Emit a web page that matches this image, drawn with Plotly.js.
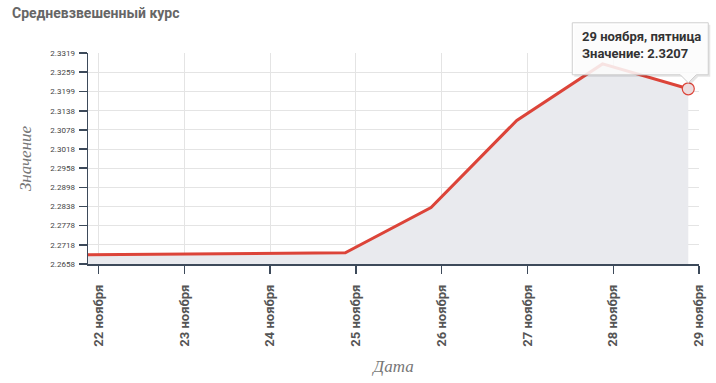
<!DOCTYPE html>
<html>
<head>
<meta charset="utf-8">
<script src="https://cdn.plot.ly/plotly-3.0.1.min.js"></script>
<style>
  html, body { margin: 0; padding: 0; background: #fff; }
  #chart { width: 716px; height: 383px; }
</style>
</head>
<body>
<div id="chart"></div>
<script>
// ---- data ----
const dates = ["2019-11-22", "2019-11-23", "2019-11-24", "2019-11-25",
               "2019-11-26", "2019-11-27", "2019-11-28", "2019-11-29"];
const values = [2.2687, 2.2689, 2.2691, 2.2693, 2.2835, 2.3108, 2.3285, 2.3207];
const xTickLabels = ["22 ноября", "23 ноября", "24 ноября", "25 ноября",
                     "26 ноября", "27 ноября", "28 ноября", "29 ноября"];
const yTickLabels = ["2.2658", "2.2718", "2.2778", "2.2838", "2.2898", "2.2958",
                     "2.3018", "2.3078", "2.3138", "2.3199", "2.3259", "2.3319"];
const weekdays = ["воскресенье", "понедельник", "вторник", "среда", "четверг", "пятница", "суббота"];
const tzOffsetHours = 3; // data stamped in UTC, ticks at local (UTC+3) midnight

function toMs(d) { return new Date(d.replace(" ", "T") + (d.length > 10 ? ":00Z" : "T00:00:00Z")).getTime(); }
function shift(d, h) {
  const t = toMs(d) - h * 3600000;
  return new Date(t).toISOString().slice(0, 16).replace("T", " ");
}
const xs = dates.map(d => shift(d, tzOffsetHours));
const last = values.length - 1;
const lastDate = new Date(dates[last] + "T00:00:00Z");
const tipText = "<b>" + xTickLabels[last] + ", " + weekdays[lastDate.getUTCDay()] +
                "</b><br><b>Значение: " + values[last].toFixed(4) + "</b>";

const yNums = yTickLabels.map(Number);
const xRange = [xs[0], dates[last]];
const yRange = [2.26578, 2.33192];

// anchor of the hover box in paper fractions, derived from the last data point
const pxAnchor = (toMs(xs[last]) - toMs(xRange[0])) / (toMs(xRange[1]) - toMs(xRange[0]));
const pyAnchor = (values[last] - yRange[0]) / (yRange[1] - yRange[0]);

const traces = [
  {
    x: xs, y: values, type: "scatter", mode: "lines",
    fill: "tozeroy", fillcolor: "#e9eaee",
    line: { color: "#dc4439", width: 3 },
    hoverinfo: "skip"
  },
  {
    x: [xs[last]], y: [values[last]], type: "scatter", mode: "markers",
    marker: { size: 12, color: "#ecdcde", line: { color: "#dc4439", width: 1.2 } },
    hoverinfo: "skip"
  }
];

const axisCol = "#3d4a5a";
const boxPath = "M -116,66 L 20,66 L 20,14 L 8,14 L 0,6 L -8,14 L -116,14 Z";
const shadowPath = "M -114,64 L 22,64 L 22,12 L 10,12 L 2,4 L -6,12 L -114,12 Z";

const layout = {
  width: 716, height: 383,
  margin: { l: 88, r: 17, t: 53, b: 119 },
  paper_bgcolor: "#fff", plot_bgcolor: "#fff",
  showlegend: false,
  font: { family: "Roboto, sans-serif", color: "#555" },
  title: {
    text: "<b>Средневзвешенный курс</b>",
    font: { family: "Roboto, sans-serif", size: 14, color: "#666" },
    xref: "container", yref: "container",
    x: 12 / 716, xanchor: "left",
    y: 1 - 13 / 383, yanchor: "middle"
  },
  xaxis: {
    type: "date",
    range: xRange,
    tickmode: "array",
    tickvals: dates,
    ticktext: xTickLabels,
    tickangle: -90,
    tickfont: { family: "Roboto, sans-serif", size: 13, color: "#555", weight: "bold" },
    ticks: "outside", ticklen: 8, tickwidth: 1.5, tickcolor: axisCol,
    ticklabelstandoff: 6,
    showline: true, linecolor: axisCol, linewidth: 1.5,
    showgrid: true, gridcolor: "#e4e4e4", gridwidth: 1,
    zeroline: false, fixedrange: true,
    title: {
      text: "Дата",
      font: { family: "Liberation Serif, serif", size: 17, color: "#777", style: "italic" },
      standoff: 14
    },
    automargin: false
  },
  yaxis: {
    range: yRange,
    tickmode: "array",
    tickvals: yNums,
    ticktext: yTickLabels,
    tickfont: { family: "Roboto, sans-serif", size: 8, color: "#444" },
    ticks: "outside", ticklen: 8, tickwidth: 1.5, tickcolor: axisCol,
    ticklabelstandoff: 2,
    showline: true, linecolor: axisCol, linewidth: 1.5,
    showgrid: true, gridcolor: "#e4e4e4", gridwidth: 1,
    zeroline: false, fixedrange: true,
    title: {
      text: "Значение",
      font: { family: "Liberation Serif, serif", size: 17, color: "#777", style: "italic" },
      standoff: 14
    },
    automargin: false
  },
  shapes: [
    {
      type: "path", layer: "above",
      xref: "paper", yref: "paper", xsizemode: "pixel", ysizemode: "pixel",
      xanchor: pxAnchor, yanchor: pyAnchor,
      path: shadowPath,
      fillcolor: "rgba(0,0,0,0.10)", line: { width: 0 }
    },
    {
      type: "path", layer: "above",
      xref: "paper", yref: "paper", xsizemode: "pixel", ysizemode: "pixel",
      xanchor: pxAnchor, yanchor: pyAnchor,
      path: boxPath,
      fillcolor: "rgba(255,255,255,0.86)", line: { color: "#cfcfcf", width: 1 }
    }
  ],
  annotations: [
    {
      xref: "paper", yref: "paper", x: pxAnchor, y: pyAnchor,
      xanchor: "left", yanchor: "top", align: "left",
      xshift: -108, yshift: 62,
      showarrow: false,
      text: tipText,
      font: { family: "Roboto, sans-serif", size: 13, color: "#333" }
    }
  ]
};

Plotly.newPlot("chart", traces, layout, { displayModeBar: false, staticPlot: true });
</script>
</body>
</html>
